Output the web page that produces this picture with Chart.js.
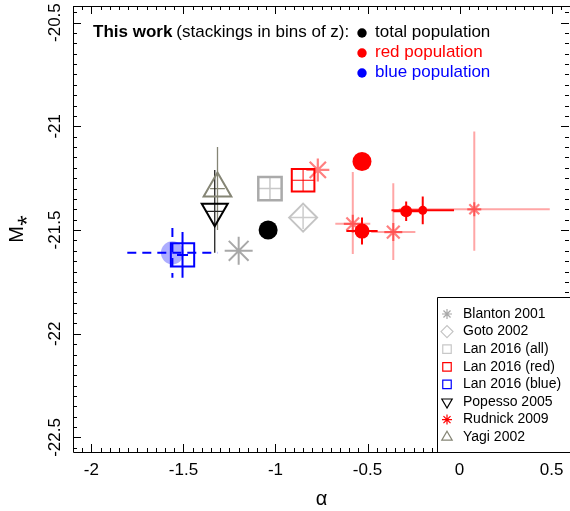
<!DOCTYPE html>
<html>
<head>
<meta charset="utf-8">
<script src="https://cdn.jsdelivr.net/npm/chart.js@4.4.1/dist/chart.umd.min.js"></script>
<style>
  html, body { margin: 0; padding: 0; background: #fff; overflow: hidden; }
  canvas { display: block; }
</style>
</head>
<body>
<canvas id="lfChart" width="570" height="511"></canvas>
<script>
// This work (stackings in bins of z)
const totalAlpha = [-1.04];
const totalM = [-21.50];
const redAlpha = [-0.53, -0.53, -0.29, -0.20];
const redM = [-21.17, -21.505, -21.41, -21.405];
const redAlphaErr = [0, 0.085, 0.07, 0.17];
const redMErr = [0, 0.065, 0.047, 0.067];
const blueAlpha = [-1.56];
const blueM = [-21.61];
const blueAlphaErr = [0.245];
const blueMErr = [0.12];

// literature values
const blantonAlpha = [-1.20];
const blantonM = [-21.60];
const gotoAlpha = [-0.85];
const gotoM = [-21.44];
const gotoAlphaErr = [0.07];
const gotoMErr = [0.055];
const lanAllAlpha = [-1.03];
const lanAllM = [-21.30];
const lanAllAlphaErr = [0.065];
const lanAllMErr = [0.055];
const lanRedAlpha = [-0.85];
const lanRedM = [-21.26];
const lanRedAlphaErr = [0.06];
const lanRedMErr = [0.055];
const lanBlueAlpha = [-1.505];
const lanBlueM = [-21.62];
const lanBlueAlphaErr = [0.03];
const lanBlueMErr = [0.11];
const popessoAlpha = [-1.33];
const popessoM = [-21.41];
const popessoAlphaErr = [0.05];
const popessoMErr = [0.2];
const rudnickAlpha = [-0.77, -0.58, -0.36, 0.08];
const rudnickM = [-21.21, -21.47, -21.51, -21.40];
const rudnickAlphaErr = [0, 0.095, 0.12, 0.41];
const rudnickMErrUp = [0, 0.25, 0.235, 0.375];
const rudnickMErrDown = [0, 0.145, 0.135, 0.2];
const yagiAlpha = [-1.315];
const yagiM = [-21.30];
const yagiAlphaErr = [0.04];
const yagiMErr = [0.2];

const X_MIN = -2.1, X_MAX = 0.6;
const Y_MIN = -22.57, Y_MAX = -20.42;

const LEGEND_NAMES = ['Blanton 2001', 'Goto 2002', 'Lan 2016 (all)', 'Lan 2016 (red)',
    'Lan 2016 (blue)', 'Popesso 2005', 'Rudnick 2009', 'Yagi 2002'];

const FONT = "'Liberation Sans', Arial, sans-serif";
Chart.defaults.font.family = FONT;
Chart.defaults.color = '#000';

function pts(xs, ys) {
    return xs.map(function (x, i) { return { x: x, y: ys[i] }; });
}

// error bars: [xs, ys, xerr, yerrUp, yerrDown, colour, width, dash]
const errorSets = [
    [lanAllAlpha, lanAllM, lanAllAlphaErr, lanAllMErr, lanAllMErr, '#c8c8c8', 1.5, []],
    [gotoAlpha, gotoM, gotoAlphaErr, gotoMErr, gotoMErr, '#cccccc', 1.5, []],
    [lanRedAlpha, lanRedM, lanRedAlphaErr, lanRedMErr, lanRedMErr, '#ff0000', 1, []],
    [yagiAlpha, yagiM, yagiAlphaErr, yagiMErr, yagiMErr, '#858575', 1.3, []],
    [popessoAlpha, popessoM, popessoAlphaErr, popessoMErr, popessoMErr, '#222222', 1.3, []],
    [rudnickAlpha, rudnickM, rudnickAlphaErr, rudnickMErrUp, rudnickMErrDown, 'rgba(255,0,0,0.35)', 2, []],
    [redAlpha, redM, redAlphaErr, redMErr, redMErr, '#ff0000', 2, []],
    [lanBlueAlpha, lanBlueM, lanBlueAlphaErr, lanBlueMErr, lanBlueMErr, '#0000ff', 2, []],
    [blueAlpha, blueM, blueAlphaErr, blueMErr, blueMErr, '#0000ff', 2, [9, 6]]
];

const errorBars = {
    id: 'errorBars',
    beforeDatasetsDraw(chart) {
        const ctx = chart.ctx, xs = chart.scales.x, ys = chart.scales.y;
        ctx.save();
        errorSets.forEach(function (s) {
            ctx.strokeStyle = s[5];
            ctx.lineWidth = s[6];
            ctx.setLineDash(s[7]);
            s[0].forEach(function (a, i) {
                const m = s[1][i];
                ctx.beginPath();
                if (s[2][i] > 0) {
                    ctx.moveTo(xs.getPixelForValue(a - s[2][i]), ys.getPixelForValue(m));
                    ctx.lineTo(xs.getPixelForValue(a + s[2][i]), ys.getPixelForValue(m));
                }
                if (s[3][i] > 0 || s[4][i] > 0) {
                    ctx.moveTo(xs.getPixelForValue(a), ys.getPixelForValue(m + s[3][i]));
                    ctx.lineTo(xs.getPixelForValue(a), ys.getPixelForValue(m - s[4][i]));
                }
                ctx.stroke();
            });
        });
        ctx.restore();
    }
};

// frame + inward ticks on all four sides
const frameTicks = {
    id: 'frameTicks',
    afterDatasetsDraw(chart) {
        const ctx = chart.ctx, a = chart.chartArea, xs = chart.scales.x, ys = chart.scales.y;
        ctx.save();
        ctx.strokeStyle = '#000';
        ctx.lineWidth = 1;
        ctx.beginPath();
        ctx.rect(Math.round(a.left) + 0.5, Math.round(a.top) + 0.5,
            Math.round(a.right - a.left), Math.round(a.bottom - a.top));
        ctx.stroke();
        ctx.beginPath();
        for (let k = Math.ceil(X_MIN * 20); k <= Math.floor(X_MAX * 20); k++) {
            const px = Math.round(xs.getPixelForValue(k / 20)) + 0.5;
            const len = (k % 10 === 0) ? 8 : 4;
            ctx.moveTo(px, a.bottom); ctx.lineTo(px, a.bottom - len);
            ctx.moveTo(px, a.top); ctx.lineTo(px, a.top + len);
        }
        for (let k = Math.ceil(Y_MIN * 20); k <= Math.floor(Y_MAX * 20); k++) {
            const py = Math.round(ys.getPixelForValue(k / 20)) + 0.5;
            const len = (k % 10 === 0) ? 8 : 4;
            ctx.moveTo(a.left, py); ctx.lineTo(a.left + len, py);
            ctx.moveTo(a.right - 1, py); ctx.lineTo(a.right - 1 - len, py);
        }
        ctx.stroke();
        ctx.restore();
    }
};

// "This work" note and the literature legend box
const notes = {
    id: 'notes',
    afterDraw(chart) {
        const ctx = chart.ctx;
        const drawPoint = Chart.helpers.drawPoint;
        ctx.save();
        ctx.textBaseline = 'middle';
        ctx.textAlign = 'left';
        ctx.fillStyle = '#000';
        ctx.font = 'bold 17px ' + FONT;
        ctx.fillText('This work', 93, 32);
        const w = ctx.measureText('This work').width;
        ctx.font = '17px ' + FONT;
        ctx.fillText('(stackings in bins of z):', 93 + w + 4, 32);
        const rows = [['total population', '#000000'], ['red population', '#ff0000'], ['blue population', '#0000ff']];
        rows.forEach(function (r, i) {
            const y = 33 + i * 20;
            ctx.fillStyle = r[1];
            ctx.beginPath();
            ctx.arc(362, y, 4.7, 0, Math.PI * 2);
            ctx.fill();
            ctx.fillText(r[0], 375, y - 1);
        });

        // legend box
        const a = chart.chartArea;
        const bx = 437.5, by = 297.5;
        ctx.fillStyle = '#fff';
        ctx.strokeStyle = '#000';
        ctx.lineWidth = 1;
        ctx.fillRect(bx, by, a.right - bx + 2, a.bottom - by);
        ctx.beginPath();
        ctx.moveTo(a.right + 2, by); ctx.lineTo(bx, by); ctx.lineTo(bx, Math.round(a.bottom) + 0.5);
        ctx.lineTo(a.right + 2, Math.round(a.bottom) + 0.5);
        ctx.stroke();
        ctx.font = '14px ' + FONT;
        LEGEND_NAMES.forEach(function (name, i) {
            const ds = chart.data.datasets.find(function (d) { return d.label === name; });
            const y = 314 + i * 17.6;
            ctx.fillStyle = 'rgba(0,0,0,0)';
            ctx.strokeStyle = ds.legendColor || ds.borderColor;
            ctx.lineWidth = 1.2;
            drawPoint(ctx, { pointStyle: ds.pointStyle, rotation: ds.rotation || 0,
                radius: ds.legendRadius, borderWidth: 1.2 }, 447, y);
            ctx.fillStyle = '#000';
            ctx.fillText(name, 463, y);
        });
        ctx.restore();
    }
};

const hollow = 'rgba(0,0,0,0)';

new Chart(document.getElementById('lfChart'), {
    type: 'scatter',
    data: {
        datasets: [
            { label: 'Blanton 2001', data: pts(blantonAlpha, blantonM), pointStyle: 'star',
              pointRadius: 14, borderColor: '#a8a8a8', backgroundColor: hollow, borderWidth: 2, legendRadius: 5 },
            { label: 'Goto 2002', data: pts(gotoAlpha, gotoM), pointStyle: 'rectRot',
              pointRadius: 14, borderColor: '#c4c4c4', backgroundColor: hollow, borderWidth: 2, legendRadius: 6 },
            { label: 'Lan 2016 (all)', data: pts(lanAllAlpha, lanAllM), pointStyle: 'rect',
              pointRadius: 16.5, borderColor: '#aaaaaa', backgroundColor: hollow, borderWidth: 2.5,
              legendRadius: 6, legendColor: '#c8c8c8' },
            { label: 'Lan 2016 (red)', data: pts(lanRedAlpha, lanRedM), pointStyle: 'rect',
              pointRadius: 16, borderColor: '#ff0000', backgroundColor: hollow, borderWidth: 2, legendRadius: 6 },
            { label: 'Lan 2016 (blue)', data: pts(lanBlueAlpha, lanBlueM), pointStyle: 'rect',
              pointRadius: 16.5, borderColor: '#0000ff', backgroundColor: hollow, borderWidth: 2, legendRadius: 6 },
            { label: 'Popesso 2005', data: pts(popessoAlpha, popessoM), pointStyle: 'triangle', rotation: 180,
              pointRotation: 180, pointRadius: 15, borderColor: '#000000', backgroundColor: hollow, borderWidth: 2,
              legendRadius: 6 },
            { label: 'Rudnick 2009', data: pts(rudnickAlpha, rudnickM), pointStyle: 'star',
              pointRadius: [11.5, 9, 9, 7], borderColor: 'rgba(255,0,0,0.5)', backgroundColor: hollow,
              borderWidth: 2.2, legendRadius: 5, legendColor: '#ff0000' },
            { label: 'Yagi 2002', data: pts(yagiAlpha, yagiM), pointStyle: 'triangle',
              pointRadius: 16, borderColor: '#858575', backgroundColor: hollow, borderWidth: 2, legendRadius: 6 },
            { label: 'This work (total)', data: pts(totalAlpha, totalM), pointStyle: 'circle',
              pointRadius: 9.5, borderWidth: 0, backgroundColor: '#000000' },
            { label: 'This work (red)', data: pts(redAlpha, redM), pointStyle: 'circle',
              pointRadius: [9.5, 7.5, 6, 4.5], borderWidth: 0, backgroundColor: '#ff0000' },
            { label: 'This work (blue)', data: pts(blueAlpha, blueM), pointStyle: 'circle',
              pointRadius: 11.5, borderWidth: 0, backgroundColor: 'rgba(0,0,255,0.32)' }
        ]
    },
    options: {
        responsive: false,
        animation: false,
        events: [],
        devicePixelRatio: 1,
        layout: { autoPadding: false, padding: { top: 6, right: 0, left: 0, bottom: 0 } },
        plugins: { legend: { display: false }, tooltip: { enabled: false } },
        scales: {
            x: {
                type: 'linear', min: X_MIN, max: X_MAX,
                grid: { display: false, drawTicks: false },
                border: { display: false },
                ticks: {
                    stepSize: 0.5, includeBounds: false, padding: 8, maxRotation: 0,
                    font: { size: 17 }, color: '#000',
                    callback: function (v) { return String(Math.round(v * 10) / 10); }
                },
                title: { display: true, text: 'α', font: { size: 20 }, padding: { top: 0, bottom: 0 } },
                afterFit: function (scale) {
                    scale.height = 59;
                    scale.paddingLeft = 0;
                    scale.paddingRight = 0;
                }
            },
            y: {
                type: 'linear', min: Y_MIN, max: Y_MAX,
                grid: { display: false, drawTicks: false },
                border: { display: false },
                ticks: {
                    stepSize: 0.5, includeBounds: false, padding: -2, minRotation: 90, maxRotation: 90,
                    crossAlign: 'center', font: { size: 17 }, color: '#000',
                    callback: function (v) { return String(Math.round(v * 10) / 10); }
                },
                title: { display: true, text: 'M⁎', font: { size: 20 }, padding: { top: 5, bottom: 0 } },
                afterFit: function (scale) {
                    scale.width = 73;
                    scale.paddingTop = 0;
                    scale.paddingBottom = 0;
                }
            }
        }
    },
    plugins: [errorBars, frameTicks, notes]
});
</script>
</body>
</html>
